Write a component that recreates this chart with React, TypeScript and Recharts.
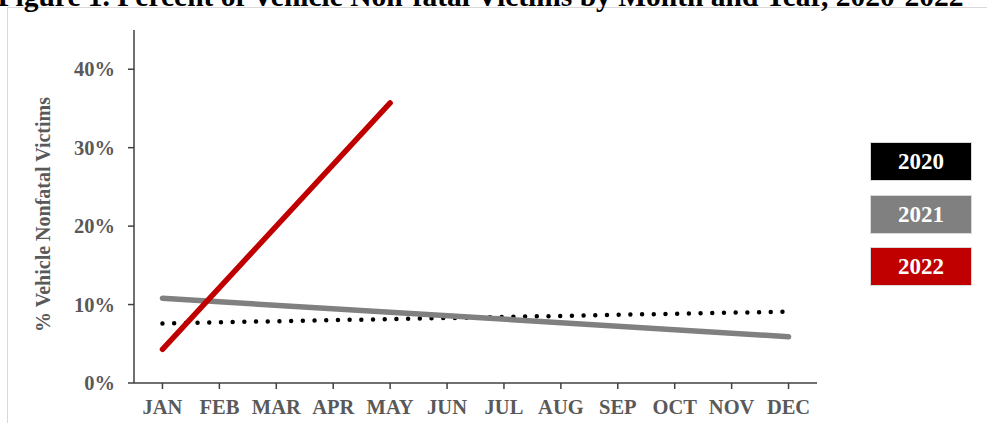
import { Legend, Line, LineChart, XAxis, YAxis } from "recharts"

const months = ["JAN", "FEB", "MAR", "APR", "MAY", "JUN", "JUL", "AUG", "SEP", "OCT", "NOV", "DEC"]

// trend lines: only the end points are drawn, the rest are joined straight
const values2020 = [7.6, null, null, null, null, null, null, null, null, null, null, 9.1]
const values2021 = [10.8, null, null, null, null, null, null, null, null, null, null, 5.9]
const values2022 = [4.3, null, null, null, 35.7, null, null, null, null, null, null, null]

const yTicks = [0, 10, 20, 30, 40]

const data = months.map((month, i) => ({
  month,
  y2020: values2020[i],
  y2021: values2021[i],
  y2022: values2022[i],
}))

const serif = "'Liberation Serif', 'Times New Roman', serif"
const axisColor = "#404040"
const labelColor = "#595959"

function LegendBoxes({ payload }: any) {
  return (
    <div>
      {(payload || []).map((item: any) => (
        <div
          key={item.value}
          style={{
            width: 102,
            height: 39,
            marginBottom: 13.5,
            background: item.color,
            border: "1px solid #d9d9d9",
            boxSizing: "border-box",
            color: "#fff",
            fontFamily: serif,
            fontWeight: "bold",
            fontSize: 23,
            lineHeight: "37px",
            textAlign: "center",
          }}
        >
          {item.value}
        </div>
      ))}
    </div>
  )
}

function YTitle({ viewBox }: any) {
  const x = viewBox.x + 43
  const y = viewBox.y + viewBox.height / 2 + 8
  return (
    <text
      x={x}
      y={y}
      transform={`rotate(-90 ${x} ${y})`}
      textAnchor="middle"
      dominantBaseline="central"
      fill={labelColor}
      fontFamily={serif}
      fontWeight="bold"
      fontSize={20}
    >
      % Vehicle Nonfatal Victims
    </text>
  )
}

export default function App() {
  return (
    <div
      style={{
        position: "absolute",
        left: 0,
        top: 0,
        width: 987,
        height: 423,
        background: "#fff",
        overflow: "hidden",
      }}
    >
      <div
        style={{
          position: "absolute",
          left: 7,
          top: 7,
          width: 1000,
          height: 500,
          border: "1px solid #d9d9d9",
        }}
      />
      <div
        style={{
          position: "absolute",
          left: -33,
          top: -18,
          width: 1027,
          textAlign: "center",
          fontFamily: serif,
          fontWeight: "bold",
          fontSize: 29.5,
          lineHeight: "29.5px",
          whiteSpace: "nowrap",
        }}
      >
        Figure 1. Percent of Vehicle Non-fatal Victims by Month and Year, 2020-2022
      </div>
      <LineChart
        width={987}
        height={423}
        data={data}
        margin={{ top: 30, right: 170, bottom: 0, left: 0 }}
        style={{ position: "absolute", left: 0, top: 0 }}
      >
        <XAxis
          dataKey="month"
          scale="band"
          height={40}
          tickSize={6}
          tickMargin={10}
          interval={0}
          axisLine={{ stroke: axisColor, strokeWidth: 1.5 }}
          tickLine={{ stroke: axisColor, strokeWidth: 1.5 }}
          tick={{ fill: labelColor, fontFamily: serif, fontWeight: "bold", fontSize: 20.5 }}
        />
        <YAxis
          width={134}
          domain={[0, 45]}
          ticks={yTicks}
          tickFormatter={(v) => `${v}%`}
          tickSize={6}
          tickMargin={13}
          axisLine={{ stroke: axisColor, strokeWidth: 1.5 }}
          tickLine={{ stroke: axisColor, strokeWidth: 1.5 }}
          tick={{ fill: labelColor, fontFamily: serif, fontWeight: "bold", fontSize: 20.5 }}
          label={{ content: YTitle }}
        />
        <Legend
          layout="horizontal"
          verticalAlign="middle"
          align="center"
          content={LegendBoxes}
          wrapperStyle={{ left: 870, top: 142, width: 104 }}
        />
        <Line
          dataKey="y2020"
          name="2020"
          stroke="#000000"
          strokeWidth={4.5}
          strokeDasharray="0 11.7"
          strokeLinecap="round"
          connectNulls
          dot={false}
          activeDot={false}
          isAnimationActive={false}
        />
        <Line
          dataKey="y2021"
          name="2021"
          stroke="#808080"
          strokeWidth={5.5}
          strokeLinecap="round"
          connectNulls
          dot={false}
          activeDot={false}
          isAnimationActive={false}
        />
        <Line
          dataKey="y2022"
          name="2022"
          stroke="#C00000"
          strokeWidth={5.5}
          strokeLinecap="round"
          connectNulls
          dot={false}
          activeDot={false}
          isAnimationActive={false}
        />
      </LineChart>
    </div>
  )
}
